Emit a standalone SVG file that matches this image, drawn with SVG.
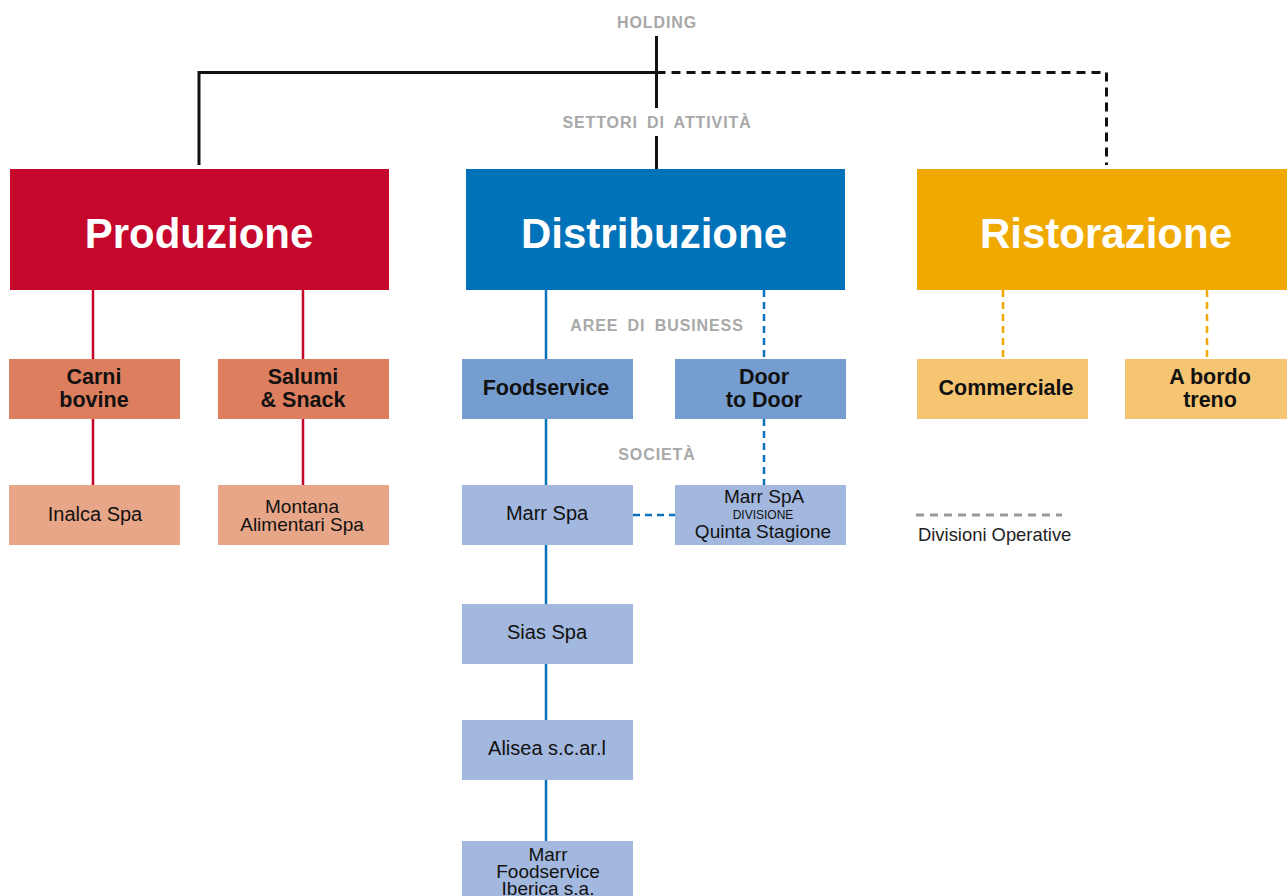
<svg xmlns="http://www.w3.org/2000/svg" width="1287" height="896" viewBox="0 0 1287 896">
<style>
text{font-family:"Liberation Sans",Arial,sans-serif;text-anchor:middle}
.lbl{fill:#a8a8a8;font-weight:bold;font-size:16px;letter-spacing:0.9px;word-spacing:4px}
.big{fill:#fff;font-weight:bold;font-size:42px}
.mid{fill:#111;font-weight:bold;font-size:21.5px}
.sm{fill:#111;font-size:20px}
.s2{fill:#111;font-size:19px}
.k{stroke:#111;stroke-width:3;fill:none}
.kd{stroke:#111;stroke-width:3;fill:none;stroke-dasharray:9,6}
.r{stroke:#c4072a;stroke-width:2.5;fill:none}
.b{stroke:#0a72b9;stroke-width:2.5;fill:none}
.bd{stroke:#0a72b9;stroke-width:2.5;fill:none;stroke-dasharray:7,5}
.od{stroke:#f0a900;stroke-width:2.5;fill:none;stroke-dasharray:7,5}
</style>
<g id="connectors">
<path class="k" d="M656.5 36V108M656.5 136V169M199 165V72.5H656.5"/>
<path class="kd" d="M656.5 72.5H1106.5V165"/>
<path class="r" d="M93 290V359M93 419V485M303 290V359M303 419V485"/>
<path class="b" d="M546 290V359M546 419V485M546 545V604M546 664V720M546 780V841"/>
<path class="bd" d="M764 290V359M764 419V485M633 515H675"/>
<path class="od" d="M1003 290V359M1207 290V359"/>
</g>
<g id="labels">
<text class="lbl" x="657" y="28">HOLDING</text>
<text class="lbl" x="657" y="128">SETTORI DI ATTIVITÀ</text>
<text class="lbl" x="657" y="331">AREE DI BUSINESS</text>
<text class="lbl" x="657" y="460">SOCIETÀ</text>
</g>
<g id="produzione"><rect x="10" y="169" width="379" height="121" fill="#c4072a"/><text class="big" x="199" y="248">Produzione</text></g>
<g id="distribuzione"><rect x="466" y="169" width="379" height="121" fill="#0072b9"/><text class="big" x="654" y="248">Distribuzione</text></g>
<g id="ristorazione"><rect x="917" y="169" width="370" height="121" fill="#f0a900"/><text class="big" x="1106" y="248">Ristorazione</text></g>
<g id="carni"><rect x="9" y="359" width="171" height="60" fill="#dd7f5f"/><text class="mid" x="94" y="384">Carni</text><text class="mid" x="94" y="407">bovine</text></g>
<g id="salumi"><rect x="218" y="359" width="171" height="60" fill="#dd7f5f"/><text class="mid" x="303" y="384">Salumi</text><text class="mid" x="303" y="407">&amp; Snack</text></g>
<g id="inalca"><rect x="9" y="485" width="171" height="60" fill="#e7a688"/><text class="sm" x="95" y="521">Inalca Spa</text></g>
<g id="montana"><rect x="218" y="485" width="171" height="60" fill="#e7a688"/><text class="s2" x="302" y="513">Montana</text><text class="s2" x="302" y="531">Alimentari Spa</text></g>
<g id="foodservice"><rect x="462" y="359" width="171" height="60" fill="#759dcf"/><text class="mid" x="546" y="395">Foodservice</text></g>
<g id="doortodoor"><rect x="675" y="359" width="171" height="60" fill="#759dcf"/><text class="mid" x="764" y="384">Door</text><text class="mid" x="764" y="407">to Door</text></g>
<g id="marrspa"><rect x="462" y="485" width="171" height="60" fill="#a3b8de"/><text class="sm" x="547" y="520">Marr Spa</text></g>
<g id="quinta"><rect x="675" y="485" width="171" height="60" fill="#a3b8de"/><text class="s2" x="764" y="503">Marr SpA</text><text x="763" y="519" style="font-size:12px;fill:#111">DIVISIONE</text><text class="s2" x="763" y="538">Quinta Stagione</text></g>
<g id="sias"><rect x="462" y="604" width="171" height="60" fill="#a3b8de"/><text class="sm" x="547" y="639">Sias Spa</text></g>
<g id="alisea"><rect x="462" y="720" width="171" height="60" fill="#a3b8de"/><text class="sm" x="547" y="755">Alisea s.c.ar.l</text></g>
<g id="iberica"><rect x="462" y="841" width="171" height="60" fill="#a3b8de"/><text class="s2" x="548" y="861">Marr</text><text class="s2" x="548" y="878">Foodservice</text><text class="s2" x="548" y="895">Iberica s.a.</text></g>
<g id="commerciale"><rect x="917" y="359" width="171" height="60" fill="#f6c572"/><text class="mid" x="1006" y="395">Commerciale</text></g>
<g id="abordo"><rect x="1125" y="359" width="162" height="60" fill="#f6c572"/><text class="mid" x="1210" y="384">A bordo</text><text class="mid" x="1210" y="407">treno</text></g>
<g id="legend"><path d="M916 515H1062" stroke="#999" stroke-width="3" style="stroke-dasharray:8,6"/><text x="918" y="541" style="text-anchor:start;font-size:18.4px;fill:#222">Divisioni Operative</text></g>
</svg>
